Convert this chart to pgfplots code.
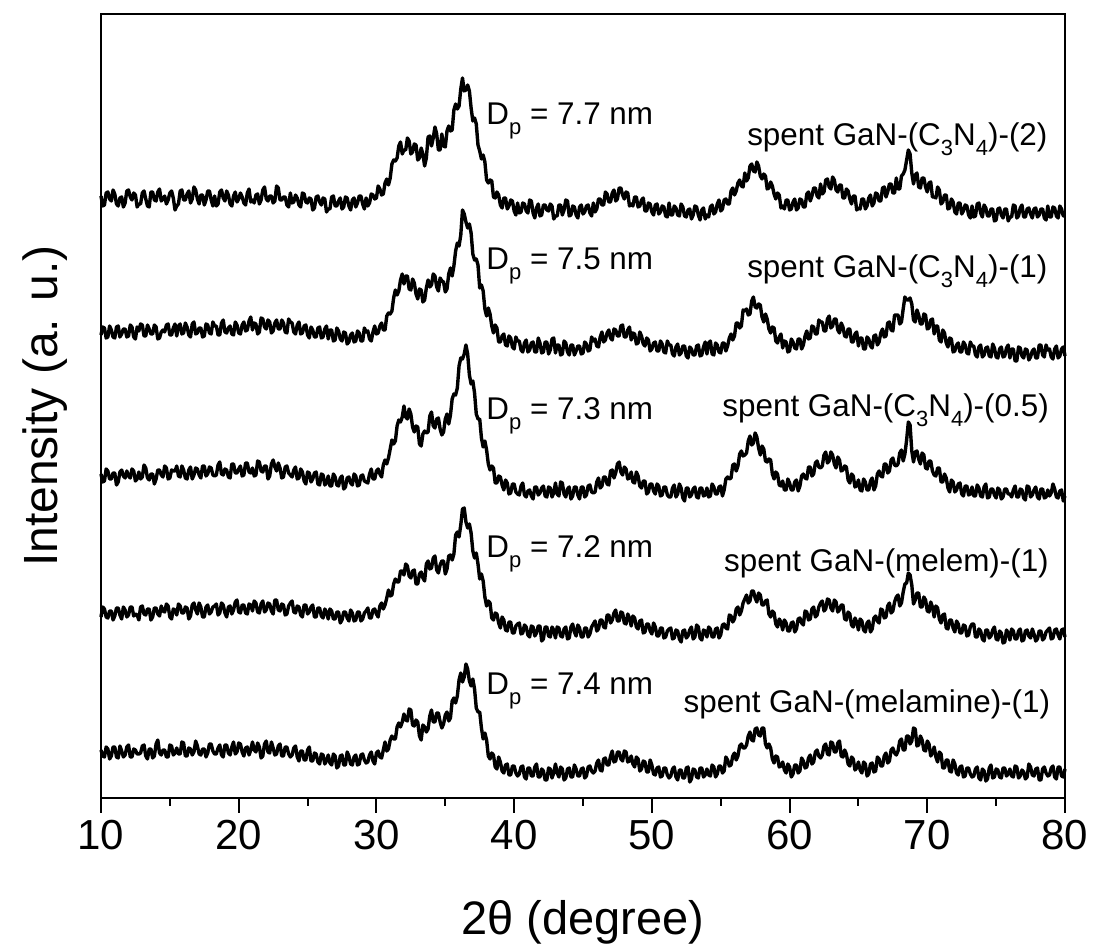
\documentclass[border=0pt]{standalone}
\usepackage{fontspec}
\setmainfont{Liberation Sans}
\usepackage{pgfplots}
\pgfplotsset{compat=1.18}
\usepackage{pgfplotstable}
\newcommand{\sub}[1]{\raisebox{-4.8pt}{\fontsize{11}{13}\selectfont #1}}
\pgfplotstableread{
x a b c d e
10.000 -196 -335 -474 -617 -750
10.125 -206 -327 -482 -607 -756
10.250 -205 -328 -481 -609 -757
10.375 -193 -338 -469 -617 -747
10.500 -192 -337 -471 -618 -749
10.625 -199 -326 -479 -611 -759
10.750 -201 -330 -479 -611 -756
10.875 -190 -337 -473 -620 -747
11.000 -194 -338 -473 -616 -747
11.125 -204 -327 -485 -608 -757
11.250 -206 -326 -482 -608 -758
11.375 -198 -337 -472 -615 -746
11.500 -197 -334 -470 -619 -751
11.625 -207 -329 -476 -607 -757
11.750 -203 -329 -478 -610 -755
11.875 -191 -337 -471 -617 -747
12.000 -190 -336 -476 -615 -745
12.125 -197 -325 -478 -607 -757
12.250 -200 -327 -469 -607 -757
12.375 -193 -337 -471 -616 -749
12.500 -195 -339 -481 -614 -750
12.625 -207 -327 -479 -615 -754
12.750 -204 -331 -472 -620 -754
12.875 -204 -324 -479 -607 -753
13.000 -193 -325 -477 -606 -746
13.125 -191 -336 -465 -614 -745
13.250 -199 -336 -468 -615 -756
13.375 -206 -325 -478 -609 -759
13.500 -207 -329 -480 -609 -749
13.625 -192 -334 -474 -620 -749
13.750 -192 -334 -474 -617 -758
13.875 -200 -325 -484 -608 -756
14.000 -201 -327 -479 -608 -744
14.125 -192 -339 -470 -614 -740
14.250 -189 -338 -470 -616 -753
14.375 -201 -332 -475 -606 -755
14.500 -199 -330 -477 -611 -750
14.625 -196 -332 -466 -612 -750
14.750 -204 -325 -468 -604 -757
14.875 -200 -324 -479 -606 -757
15.000 -193 -335 -478 -617 -745
15.125 -191 -335 -470 -619 -746
15.250 -198 -328 -471 -609 -755
15.375 -210 -324 -471 -610 -753
15.500 -206 -336 -466 -615 -748
15.625 -204 -326 -476 -604 -754
15.750 -191 -324 -477 -606 -754
15.875 -190 -334 -466 -613 -742
16.000 -200 -333 -470 -613 -743
16.125 -200 -323 -478 -607 -756
16.250 -194 -327 -479 -608 -756
16.375 -191 -335 -470 -619 -748
16.500 -203 -337 -467 -616 -749
16.625 -199 -324 -479 -605 -755
16.750 -187 -322 -475 -603 -752
16.875 -190 -334 -468 -610 -741
17.000 -199 -333 -469 -614 -746
17.125 -204 -328 -475 -603 -754
17.250 -195 -328 -478 -607 -755
17.375 -195 -337 -466 -617 -749
17.500 -205 -336 -466 -617 -749
17.625 -200 -324 -476 -607 -757
17.750 -191 -325 -474 -605 -753
17.875 -191 -333 -467 -614 -744
18.000 -200 -334 -468 -612 -744
18.125 -206 -322 -475 -607 -751
18.250 -196 -326 -476 -606 -754
18.375 -206 -326 -475 -604 -754
18.500 -204 -335 -465 -615 -748
18.625 -192 -335 -462 -613 -745
18.750 -190 -323 -474 -603 -755
18.875 -198 -320 -475 -605 -757
19.000 -201 -332 -469 -613 -745
19.125 -191 -333 -470 -617 -745
19.250 -195 -328 -477 -607 -753
19.375 -204 -326 -478 -606 -755
19.500 -206 -334 -464 -614 -747
19.625 -196 -335 -464 -610 -742
19.750 -192 -322 -473 -602 -754
19.875 -202 -325 -473 -600 -752
20.000 -199 -333 -469 -612 -743
20.125 -193 -334 -466 -613 -744
20.250 -197 -325 -476 -605 -752
20.375 -203 -322 -475 -605 -756
20.500 -205 -331 -463 -613 -748
20.625 -193 -330 -463 -614 -747
20.750 -189 -321 -472 -604 -755
20.875 -202 -317 -473 -605 -750
21.000 -200 -330 -468 -611 -742
21.125 -203 -323 -476 -601 -750
21.250 -195 -324 -475 -603 -752
21.375 -194 -334 -461 -612 -743
21.500 -204 -332 -462 -613 -747
21.625 -200 -318 -471 -604 -758
21.750 -190 -319 -472 -601 -756
21.875 -187 -327 -466 -612 -744
22.000 -199 -329 -466 -610 -741
22.125 -201 -320 -479 -603 -752
22.250 -196 -322 -476 -604 -753
22.375 -196 -333 -464 -611 -742
22.500 -203 -331 -460 -614 -748
22.625 -201 -323 -467 -600 -755
22.750 -186 -320 -471 -600 -754
22.875 -188 -329 -463 -610 -746
23.000 -200 -329 -468 -611 -744
23.125 -200 -320 -478 -604 -756
23.250 -197 -323 -477 -605 -756
23.375 -197 -332 -467 -615 -747
23.500 -205 -333 -466 -614 -747
23.625 -207 -319 -473 -606 -754
23.750 -193 -322 -475 -603 -757
23.875 -203 -323 -477 -601 -755
24.000 -202 -332 -470 -612 -748
24.125 -195 -334 -467 -613 -746
24.250 -198 -325 -479 -606 -757
24.375 -205 -322 -478 -607 -761
24.500 -207 -334 -469 -615 -751
24.625 -193 -333 -472 -617 -751
24.750 -194 -326 -481 -605 -760
24.875 -202 -325 -484 -605 -760
25.000 -203 -335 -472 -614 -750
25.125 -198 -338 -473 -612 -747
25.250 -199 -327 -482 -607 -761
25.375 -210 -330 -479 -605 -761
25.500 -208 -337 -473 -617 -753
25.625 -197 -337 -472 -617 -754
25.750 -196 -328 -484 -608 -762
25.875 -202 -327 -485 -608 -764
26.000 -205 -338 -474 -616 -754
26.125 -198 -337 -475 -618 -755
26.250 -199 -329 -485 -609 -764
26.375 -212 -326 -483 -612 -761
26.500 -209 -339 -476 -619 -755
26.625 -209 -330 -486 -609 -763
26.750 -197 -330 -486 -611 -765
26.875 -196 -341 -474 -619 -754
27.000 -206 -340 -477 -619 -756
27.125 -206 -328 -485 -612 -768
27.250 -201 -331 -486 -612 -766
27.375 -198 -339 -478 -623 -756
27.500 -209 -341 -476 -620 -755
27.625 -207 -332 -489 -612 -765
27.750 -197 -333 -487 -612 -765
27.875 -198 -344 -478 -618 -752
28.000 -206 -342 -477 -621 -756
28.125 -210 -335 -483 -610 -764
28.250 -200 -333 -485 -613 -765
28.375 -198 -342 -474 -621 -757
28.500 -207 -341 -476 -620 -755
28.625 -203 -331 -486 -612 -765
28.750 -196 -333 -485 -612 -764
28.875 -196 -341 -476 -621 -755
29.000 -204 -341 -475 -619 -754
29.125 -209 -328 -481 -613 -760
29.250 -198 -332 -482 -611 -763
29.375 -206 -331 -483 -608 -762
29.500 -203 -339 -474 -618 -755
29.625 -194 -341 -469 -618 -752
29.750 -195 -332 -479 -610 -761
29.875 -199 -326 -479 -609 -764
30.000 -198 -334 -471 -614 -753
30.125 -186 -333 -469 -617 -751
30.250 -189 -326 -474 -606 -757
30.375 -195 -323 -477 -603 -758
30.500 -194 -330 -465 -609 -750
30.625 -183 -330 -460 -605 -742
30.750 -179 -316 -464 -598 -751
30.875 -185 -313 -458 -590 -749
31.000 -178 -314 -449 -596 -740
31.125 -164 -311 -440 -595 -736
31.250 -160 -298 -444 -584 -739
31.375 -161 -290 -441 -579 -739
31.500 -158 -295 -426 -582 -727
31.625 -146 -291 -420 -582 -723
31.750 -142 -280 -422 -571 -727
31.875 -154 -274 -417 -571 -722
32.000 -150 -284 -406 -575 -714
32.125 -150 -276 -417 -564 -720
32.250 -138 -276 -419 -566 -721
32.375 -141 -289 -409 -576 -709
32.500 -154 -290 -414 -578 -710
32.625 -152 -279 -427 -571 -725
32.750 -144 -283 -432 -570 -726
32.875 -145 -294 -426 -584 -720
33.000 -160 -299 -427 -584 -722
33.125 -158 -289 -444 -574 -736
33.250 -148 -290 -446 -572 -740
33.375 -154 -302 -434 -578 -725
33.500 -166 -300 -431 -581 -727
33.625 -158 -288 -433 -564 -732
33.750 -137 -280 -432 -561 -729
33.875 -136 -287 -416 -569 -716
34.000 -146 -285 -412 -568 -710
34.125 -138 -274 -426 -558 -722
34.250 -127 -276 -428 -556 -722
34.375 -134 -287 -419 -570 -713
34.500 -150 -291 -418 -573 -713
34.625 -150 -278 -429 -565 -722
34.750 -134 -281 -435 -561 -728
34.875 -146 -282 -432 -561 -724
35.000 -147 -292 -419 -574 -715
35.125 -131 -289 -414 -569 -712
35.250 -126 -274 -424 -556 -721
35.375 -131 -268 -415 -555 -718
35.500 -130 -276 -399 -560 -701
35.625 -110 -266 -394 -554 -698
35.750 -104 -251 -395 -535 -703
35.875 -109 -243 -388 -532 -696
36.000 -106 -246 -366 -537 -680
36.125 -89 -235 -358 -525 -673
36.250 -78 -210 -359 -509 -682
36.375 -91 -214 -354 -508 -677
36.500 -90 -222 -345 -522 -664
36.625 -85 -228 -354 -528 -669
36.750 -91 -224 -375 -524 -681
36.875 -108 -233 -384 -533 -686
37.000 -121 -254 -381 -551 -679
37.125 -118 -260 -393 -558 -689
37.250 -124 -259 -414 -553 -708
37.375 -145 -265 -419 -564 -712
37.500 -151 -288 -419 -579 -712
37.625 -159 -285 -438 -574 -728
37.750 -155 -291 -447 -581 -739
37.875 -162 -309 -441 -597 -733
38.000 -180 -316 -450 -606 -740
38.125 -183 -308 -464 -601 -756
38.250 -180 -314 -470 -603 -759
38.375 -181 -326 -466 -618 -753
38.500 -197 -333 -468 -620 -755
38.625 -198 -325 -483 -613 -767
38.750 -192 -328 -483 -614 -769
38.875 -195 -342 -476 -623 -757
39.000 -205 -342 -477 -628 -762
39.125 -208 -336 -485 -617 -771
39.250 -198 -334 -490 -620 -773
39.375 -198 -345 -480 -630 -765
39.500 -209 -346 -483 -631 -764
39.625 -206 -336 -494 -622 -775
39.750 -200 -338 -493 -622 -775
39.875 -201 -347 -484 -633 -766
40.000 -211 -349 -484 -633 -766
40.125 -215 -337 -492 -626 -773
40.250 -203 -341 -494 -624 -776
40.375 -213 -341 -495 -623 -774
40.500 -212 -350 -486 -634 -767
40.625 -203 -352 -483 -633 -766
40.750 -204 -343 -495 -625 -777
40.875 -211 -340 -497 -627 -779
41.000 -213 -352 -491 -635 -768
41.125 -200 -350 -490 -637 -768
41.250 -201 -343 -496 -626 -776
41.375 -213 -342 -499 -627 -776
41.500 -218 -352 -487 -636 -767
41.625 -208 -352 -487 -633 -764
41.750 -204 -338 -495 -626 -777
41.875 -216 -343 -493 -626 -777
42.000 -215 -353 -488 -641 -769
42.125 -205 -352 -486 -639 -771
42.250 -205 -342 -496 -627 -780
42.375 -210 -342 -497 -627 -780
42.500 -211 -354 -487 -636 -768
42.625 -204 -350 -488 -637 -769
42.750 -206 -339 -497 -627 -778
42.875 -219 -338 -493 -630 -773
43.000 -216 -353 -483 -638 -764
43.125 -216 -345 -494 -627 -773
43.250 -205 -345 -496 -628 -777
43.375 -205 -355 -482 -636 -767
43.500 -215 -354 -483 -637 -769
43.625 -210 -341 -494 -629 -780
43.750 -200 -343 -497 -627 -778
43.875 -201 -352 -489 -639 -769
44.000 -216 -355 -487 -638 -768
44.125 -215 -345 -499 -627 -777
44.250 -206 -345 -496 -624 -777
44.375 -207 -355 -487 -632 -765
44.500 -215 -351 -487 -636 -769
44.625 -218 -346 -495 -625 -776
44.750 -207 -346 -499 -628 -776
44.875 -205 -354 -487 -637 -769
45.000 -214 -353 -487 -637 -768
45.125 -212 -342 -497 -628 -778
45.250 -206 -344 -495 -628 -776
45.375 -205 -351 -486 -637 -767
45.500 -213 -350 -485 -634 -766
45.625 -216 -337 -492 -627 -771
45.750 -203 -341 -493 -624 -773
45.875 -212 -339 -492 -621 -771
46.000 -209 -346 -482 -631 -763
46.125 -199 -347 -478 -629 -760
46.250 -199 -337 -488 -620 -770
46.375 -205 -332 -486 -620 -771
46.500 -205 -342 -477 -627 -759
46.625 -192 -340 -477 -628 -758
46.750 -194 -333 -484 -615 -765
46.875 -202 -330 -485 -615 -765
47.000 -202 -338 -471 -623 -756
47.125 -193 -340 -470 -620 -751
47.250 -190 -329 -478 -613 -762
47.375 -201 -330 -473 -610 -761
47.500 -199 -336 -464 -621 -752
47.625 -188 -336 -462 -621 -752
47.750 -188 -326 -472 -612 -759
47.875 -195 -325 -475 -613 -761
48.000 -199 -337 -467 -623 -751
48.125 -192 -337 -469 -624 -752
48.250 -193 -330 -479 -614 -762
48.375 -206 -327 -478 -618 -761
48.500 -204 -340 -472 -626 -756
48.625 -206 -333 -482 -616 -764
48.750 -197 -334 -483 -618 -767
48.875 -197 -344 -472 -627 -757
49.000 -207 -343 -476 -629 -759
49.125 -206 -332 -486 -621 -771
49.250 -200 -336 -488 -620 -769
49.375 -198 -344 -481 -633 -761
49.500 -211 -346 -481 -632 -762
49.625 -211 -338 -494 -624 -772
49.750 -203 -340 -492 -624 -772
49.875 -204 -351 -484 -631 -760
50.000 -212 -349 -484 -634 -765
50.125 -215 -343 -491 -623 -774
50.250 -205 -342 -494 -627 -775
50.375 -204 -351 -484 -636 -768
50.500 -214 -351 -486 -636 -767
50.625 -212 -341 -496 -628 -777
50.750 -206 -344 -495 -628 -776
50.875 -207 -352 -487 -638 -768
51.000 -216 -353 -487 -637 -768
51.125 -217 -341 -495 -631 -775
51.250 -203 -345 -497 -629 -778
51.375 -215 -345 -497 -628 -776
51.500 -215 -354 -488 -639 -769
51.625 -206 -356 -485 -638 -767
51.750 -208 -347 -497 -630 -777
51.875 -215 -344 -494 -631 -780
52.000 -216 -355 -484 -639 -770
52.125 -204 -353 -488 -642 -770
52.250 -207 -346 -498 -631 -778
52.375 -216 -346 -501 -630 -778
52.500 -217 -356 -488 -638 -768
52.625 -210 -358 -488 -636 -767
52.750 -209 -347 -497 -630 -782
52.875 -219 -349 -495 -627 -779
53.000 -215 -355 -489 -639 -769
53.125 -206 -355 -487 -637 -770
53.250 -207 -346 -497 -625 -777
53.375 -215 -345 -498 -627 -778
53.500 -220 -356 -488 -638 -768
53.625 -210 -355 -488 -640 -768
53.750 -208 -347 -496 -630 -777
53.875 -219 -342 -495 -631 -775
54.000 -215 -354 -488 -637 -769
54.125 -217 -343 -497 -627 -775
54.250 -207 -341 -496 -629 -776
54.375 -205 -354 -484 -637 -765
54.500 -214 -355 -487 -637 -767
54.625 -212 -343 -494 -629 -777
54.750 -204 -345 -494 -628 -774
54.875 -200 -352 -487 -638 -766
55.000 -211 -353 -486 -635 -766
55.125 -209 -343 -496 -625 -773
55.250 -200 -343 -490 -624 -771
55.375 -199 -351 -479 -628 -757
55.500 -204 -346 -477 -629 -760
55.625 -204 -338 -479 -615 -766
55.750 -191 -334 -478 -616 -765
55.875 -188 -340 -465 -622 -756
56.000 -195 -336 -464 -619 -753
56.125 -191 -323 -471 -609 -760
56.250 -183 -323 -466 -607 -756
56.375 -180 -328 -454 -615 -746
56.500 -186 -326 -451 -611 -744
56.625 -187 -310 -456 -603 -748
56.750 -173 -311 -455 -599 -748
56.875 -181 -309 -453 -595 -745
57.000 -178 -315 -441 -603 -736
57.125 -166 -314 -436 -601 -732
57.250 -164 -301 -445 -591 -740
57.375 -171 -297 -443 -591 -741
57.500 -172 -307 -433 -598 -729
57.625 -162 -308 -437 -602 -728
57.750 -166 -304 -448 -593 -735
57.875 -176 -305 -455 -595 -736
58.000 -179 -317 -446 -605 -728
58.125 -174 -322 -449 -605 -728
58.250 -176 -314 -461 -601 -744
58.375 -189 -319 -462 -600 -748
58.500 -188 -329 -459 -614 -744
58.625 -182 -333 -460 -617 -748
58.750 -186 -327 -474 -611 -759
58.875 -194 -328 -479 -613 -763
59.000 -199 -341 -472 -624 -756
59.125 -193 -343 -474 -627 -757
59.250 -195 -337 -485 -619 -767
59.375 -208 -334 -486 -622 -766
59.500 -206 -348 -481 -630 -762
59.625 -209 -341 -490 -620 -770
59.750 -200 -342 -490 -623 -773
59.875 -200 -352 -479 -631 -764
60.000 -210 -351 -483 -631 -767
60.125 -209 -339 -490 -623 -777
60.250 -202 -342 -490 -622 -774
60.375 -199 -348 -482 -632 -765
60.500 -210 -349 -480 -629 -765
60.625 -208 -339 -491 -619 -773
60.750 -199 -339 -486 -618 -771
60.875 -200 -349 -476 -623 -758
61.000 -207 -345 -474 -625 -761
61.125 -207 -336 -478 -611 -768
61.250 -194 -331 -479 -612 -767
61.375 -192 -339 -467 -620 -758
61.500 -201 -338 -467 -619 -755
61.625 -196 -326 -476 -609 -764
61.750 -188 -327 -474 -607 -762
61.875 -188 -334 -463 -617 -752
62.000 -196 -334 -461 -615 -750
62.125 -198 -320 -467 -607 -756
62.250 -184 -322 -468 -603 -758
62.375 -194 -322 -466 -601 -755
62.500 -192 -331 -455 -611 -746
62.625 -180 -331 -452 -609 -744
62.750 -179 -319 -463 -599 -754
62.875 -187 -316 -461 -600 -755
63.000 -189 -328 -452 -608 -742
63.125 -177 -326 -455 -611 -743
63.250 -180 -319 -464 -600 -752
63.375 -190 -319 -468 -602 -752
63.500 -192 -330 -457 -612 -743
63.625 -185 -333 -460 -610 -741
63.750 -185 -323 -471 -605 -756
63.875 -198 -327 -470 -605 -757
64.000 -198 -336 -466 -619 -750
64.125 -189 -337 -467 -620 -754
64.250 -191 -329 -480 -612 -764
64.375 -199 -329 -483 -614 -766
64.500 -204 -342 -474 -625 -757
64.625 -196 -342 -476 -627 -759
64.750 -196 -334 -487 -618 -770
64.875 -210 -332 -486 -622 -768
65.000 -208 -346 -480 -630 -762
65.125 -209 -338 -490 -619 -770
65.250 -199 -338 -491 -621 -773
65.375 -199 -349 -479 -630 -762
65.500 -209 -349 -482 -632 -764
65.625 -206 -337 -490 -623 -776
65.750 -198 -339 -490 -621 -774
65.875 -195 -346 -481 -632 -764
66.000 -206 -348 -478 -629 -763
66.125 -203 -336 -490 -618 -772
66.250 -193 -335 -486 -616 -771
66.375 -194 -345 -474 -621 -757
66.500 -201 -342 -471 -623 -759
66.625 -201 -333 -476 -609 -766
66.750 -188 -329 -477 -610 -766
66.875 -187 -337 -464 -618 -756
67.000 -197 -336 -464 -617 -753
67.125 -192 -323 -473 -606 -763
67.250 -184 -322 -471 -603 -761
67.375 -184 -330 -460 -613 -750
67.500 -193 -331 -458 -611 -748
67.625 -193 -315 -465 -602 -753
67.750 -178 -315 -466 -597 -755
67.875 -189 -315 -464 -595 -751
68.000 -189 -324 -453 -606 -741
68.125 -176 -322 -450 -603 -739
68.250 -174 -309 -461 -592 -750
68.375 -170 -297 -454 -584 -750
68.500 -160 -300 -440 -583 -736
68.625 -150 -300 -422 -573 -736
68.750 -154 -298 -425 -575 -744
68.875 -173 -304 -451 -585 -741
69.000 -184 -320 -462 -604 -728
69.125 -175 -322 -452 -600 -729
69.250 -173 -310 -451 -593 -746
69.375 -187 -315 -459 -593 -745
69.500 -188 -324 -464 -607 -736
69.625 -178 -324 -453 -607 -740
69.750 -178 -314 -455 -597 -750
69.875 -187 -315 -468 -600 -751
70.000 -192 -329 -469 -611 -741
70.125 -183 -328 -461 -612 -744
70.250 -182 -320 -461 -602 -756
70.375 -197 -319 -471 -607 -753
70.500 -197 -334 -475 -617 -747
70.625 -198 -326 -476 -606 -757
70.750 -187 -326 -468 -608 -762
70.875 -190 -340 -468 -619 -752
71.000 -204 -342 -482 -623 -754
71.125 -202 -330 -482 -615 -768
71.250 -195 -333 -474 -614 -768
71.375 -195 -343 -478 -628 -760
71.500 -209 -347 -488 -629 -760
71.625 -208 -338 -492 -620 -771
71.750 -199 -339 -480 -620 -772
71.875 -202 -352 -482 -628 -760
72.000 -212 -351 -492 -632 -764
72.125 -214 -345 -490 -621 -773
72.250 -203 -343 -484 -624 -775
72.375 -203 -352 -483 -633 -767
72.500 -214 -352 -494 -633 -766
72.625 -211 -342 -496 -625 -777
72.750 -205 -345 -486 -626 -776
72.875 -206 -353 -486 -636 -768
73.000 -215 -354 -495 -635 -768
73.125 -218 -342 -494 -627 -774
73.250 -206 -346 -487 -624 -777
73.375 -217 -346 -496 -624 -776
73.500 -216 -355 -496 -637 -769
73.625 -204 -357 -485 -637 -767
73.750 -203 -347 -488 -629 -778
73.875 -213 -345 -496 -631 -780
74.000 -217 -357 -497 -639 -769
74.125 -205 -355 -487 -641 -771
74.250 -208 -348 -484 -630 -781
74.375 -216 -347 -498 -630 -779
74.500 -216 -356 -497 -638 -768
74.625 -209 -357 -489 -636 -765
74.750 -209 -344 -489 -630 -778
74.875 -221 -348 -495 -627 -777
75.000 -220 -357 -498 -639 -769
75.125 -209 -358 -488 -640 -770
75.250 -208 -349 -490 -631 -777
75.375 -215 -347 -499 -633 -778
75.500 -218 -357 -497 -643 -768
75.625 -209 -356 -489 -642 -768
75.750 -209 -348 -489 -630 -776
75.875 -221 -345 -494 -633 -774
76.000 -217 -358 -494 -640 -769
76.125 -217 -349 -497 -629 -776
76.250 -205 -349 -490 -631 -777
76.375 -206 -361 -486 -639 -766
76.500 -218 -361 -497 -639 -767
76.625 -216 -347 -497 -631 -778
76.750 -208 -348 -489 -629 -776
76.875 -205 -356 -490 -641 -770
77.000 -217 -358 -498 -640 -772
77.125 -217 -349 -500 -631 -779
77.250 -209 -350 -486 -630 -777
77.375 -208 -360 -487 -636 -764
77.500 -214 -357 -497 -638 -767
77.625 -218 -351 -495 -629 -775
77.750 -209 -349 -490 -634 -776
77.875 -208 -358 -487 -641 -769
78.000 -217 -358 -497 -639 -768
78.125 -215 -345 -499 -631 -780
78.250 -209 -345 -489 -631 -780
78.375 -209 -355 -489 -640 -769
78.500 -218 -357 -498 -638 -767
78.625 -220 -345 -497 -632 -773
78.750 -206 -350 -490 -630 -776
78.875 -217 -349 -496 -628 -775
79.000 -217 -357 -493 -639 -768
79.125 -207 -359 -484 -638 -766
79.250 -208 -349 -489 -630 -777
79.375 -216 -346 -497 -629 -779
79.500 -218 -358 -498 -635 -767
79.625 -206 -356 -491 -639 -767
79.750 -209 -349 -490 -630 -776
79.875 -216 -347 -501 -629 -777
80.000 -216 -356 -496 -637 -769
}\xrd

\begin{document}
\begin{tikzpicture}[x=1pt,y=1pt]
\path[use as bounding box] (0,0) rectangle (546.5,473.5);
\begin{axis}[
  at={(50.5pt,74.5pt)}, anchor=south west,
  scale only axis, width=482pt, height=392pt,
  xmin=10, xmax=80, ymin=-798, ymax=-14,
  clip=false,
  axis line style={line width=1.3pt},
  xtick={10,20,...,80}, minor xtick={15,25,...,75},
  ytick=\empty,
  xtick pos=bottom,
  tick align=outside, xtick align=outside,
  major tick length=7.5pt, minor tick length=4pt,
  every tick/.style={black, line width=1pt},
  /pgf/number format/assume math mode=true,
  xticklabel style={font=\fontsize{21}{25}\selectfont},
]
\addplot[black, line width=1.7pt, line join=round, no markers] table[x=x,y=a] {\xrd};
\addplot[black, line width=1.7pt, line join=round, no markers] table[x=x,y=b] {\xrd};
\addplot[black, line width=1.7pt, line join=round, no markers] table[x=x,y=c] {\xrd};
\addplot[black, line width=1.7pt, line join=round, no markers] table[x=x,y=d] {\xrd};
\addplot[black, line width=1.7pt, line join=round, no markers] table[x=x,y=e] {\xrd};

\begin{scope}[every node/.style={inner sep=0pt, font=\fontsize{15.7}{18}\selectfont}]
\node[anchor=base west] at (axis cs:37.96,-125) {D\sub{p} = 7.7 nm};
\node[anchor=base west] at (axis cs:37.96,-270) {D\sub{p} = 7.5 nm};
\node[anchor=base west] at (axis cs:37.96,-420) {D\sub{p} = 7.3 nm};
\node[anchor=base west] at (axis cs:37.96,-558) {D\sub{p} = 7.2 nm};
\node[anchor=base west] at (axis cs:37.96,-695) {D\sub{p} = 7.4 nm};
\node[anchor=base east] at (axis cs:78.75,-146) {spent GaN-(C\sub{3}N\sub{4})-(2)};
\node[anchor=base east] at (axis cs:78.75,-278) {spent GaN-(C\sub{3}N\sub{4})-(1)};
\node[anchor=base east] at (axis cs:78.85,-417) {spent GaN-(C\sub{3}N\sub{4})-(0.5)};
\node[anchor=base east] at (axis cs:78.85,-572) {spent GaN-(melem)-(1)};
\node[anchor=base east] at (axis cs:78.95,-713) {spent GaN-(melamine)-(1)};
\end{scope}
\node[anchor=base, inner sep=0pt, font=\fontsize{23.5}{28}\selectfont] at (axis cs:45,-935) {2θ (degree)};
\node[anchor=base, inner sep=0pt, rotate=90, font=\fontsize{24}{28}\selectfont] at (axis cs:6.85,-406) {Intensity (a. u.)};
\end{axis}
\end{tikzpicture}
\end{document}
